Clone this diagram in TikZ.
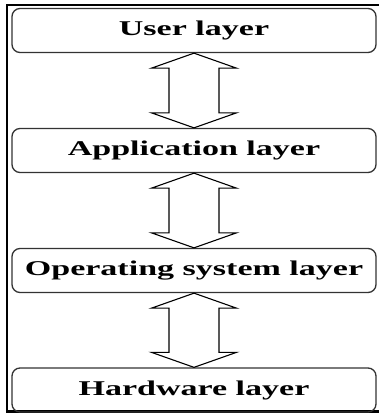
\documentclass[tikz,border=0pt]{standalone}
\usepackage{fontspec}
\setmainfont{Liberation Serif}
\usepackage{graphicx}
\usetikzlibrary{calc}
\definecolor{layeredge}{HTML}{333333}
\newcommand{\layertext}[1]{\scalebox{1.62}[1]{\fontsize{21}{24}\selectfont\bfseries #1}}

\begin{document}
\begin{tikzpicture}[
            x=1pt, y=-1pt,
            layer/.style={rectangle, rounded corners=8pt, draw=layeredge, line width=1.3pt,
                minimum width=364pt, minimum height=44pt, inner xsep=0pt},
            bothway/.style={draw, line width=1.1pt, line join=miter}
        ]
            \useasboundingbox (0,0) rectangle (379,414);

            % frame
            \draw[line width=2.5pt] (379,5) -- (7,5) -- (7,411.5) -- (379,411.5);

            % layers
            \node[layer] (user) at (194,30.5) {\layertext{User layer}};
            \node[layer] (app) at (194,150.5) {\layertext{Application layer}};
            \node[layer] (os) at (194,270.5) {\layertext{Operating system layer}};
            \node[layer] (hw) at (194,390) {\layertext{Hardware layer}};

            % two-way arrows between layers
            \foreach \a/\b in {user/app, app/os, os/hw}
                \draw[bothway] (\a.south) -- ++(42.5,15) -- ++(-17.5,0)
                    -- ($(\b.north)+(25,-15)$) -- ++(17.5,0) -- (\b.north)
                    -- ++(-42.5,-15) -- ++(17.5,0)
                    -- ($(\a.south)+(-25,15)$) -- ++(-17.5,0) -- cycle;
        \end{tikzpicture}
\end{document}
